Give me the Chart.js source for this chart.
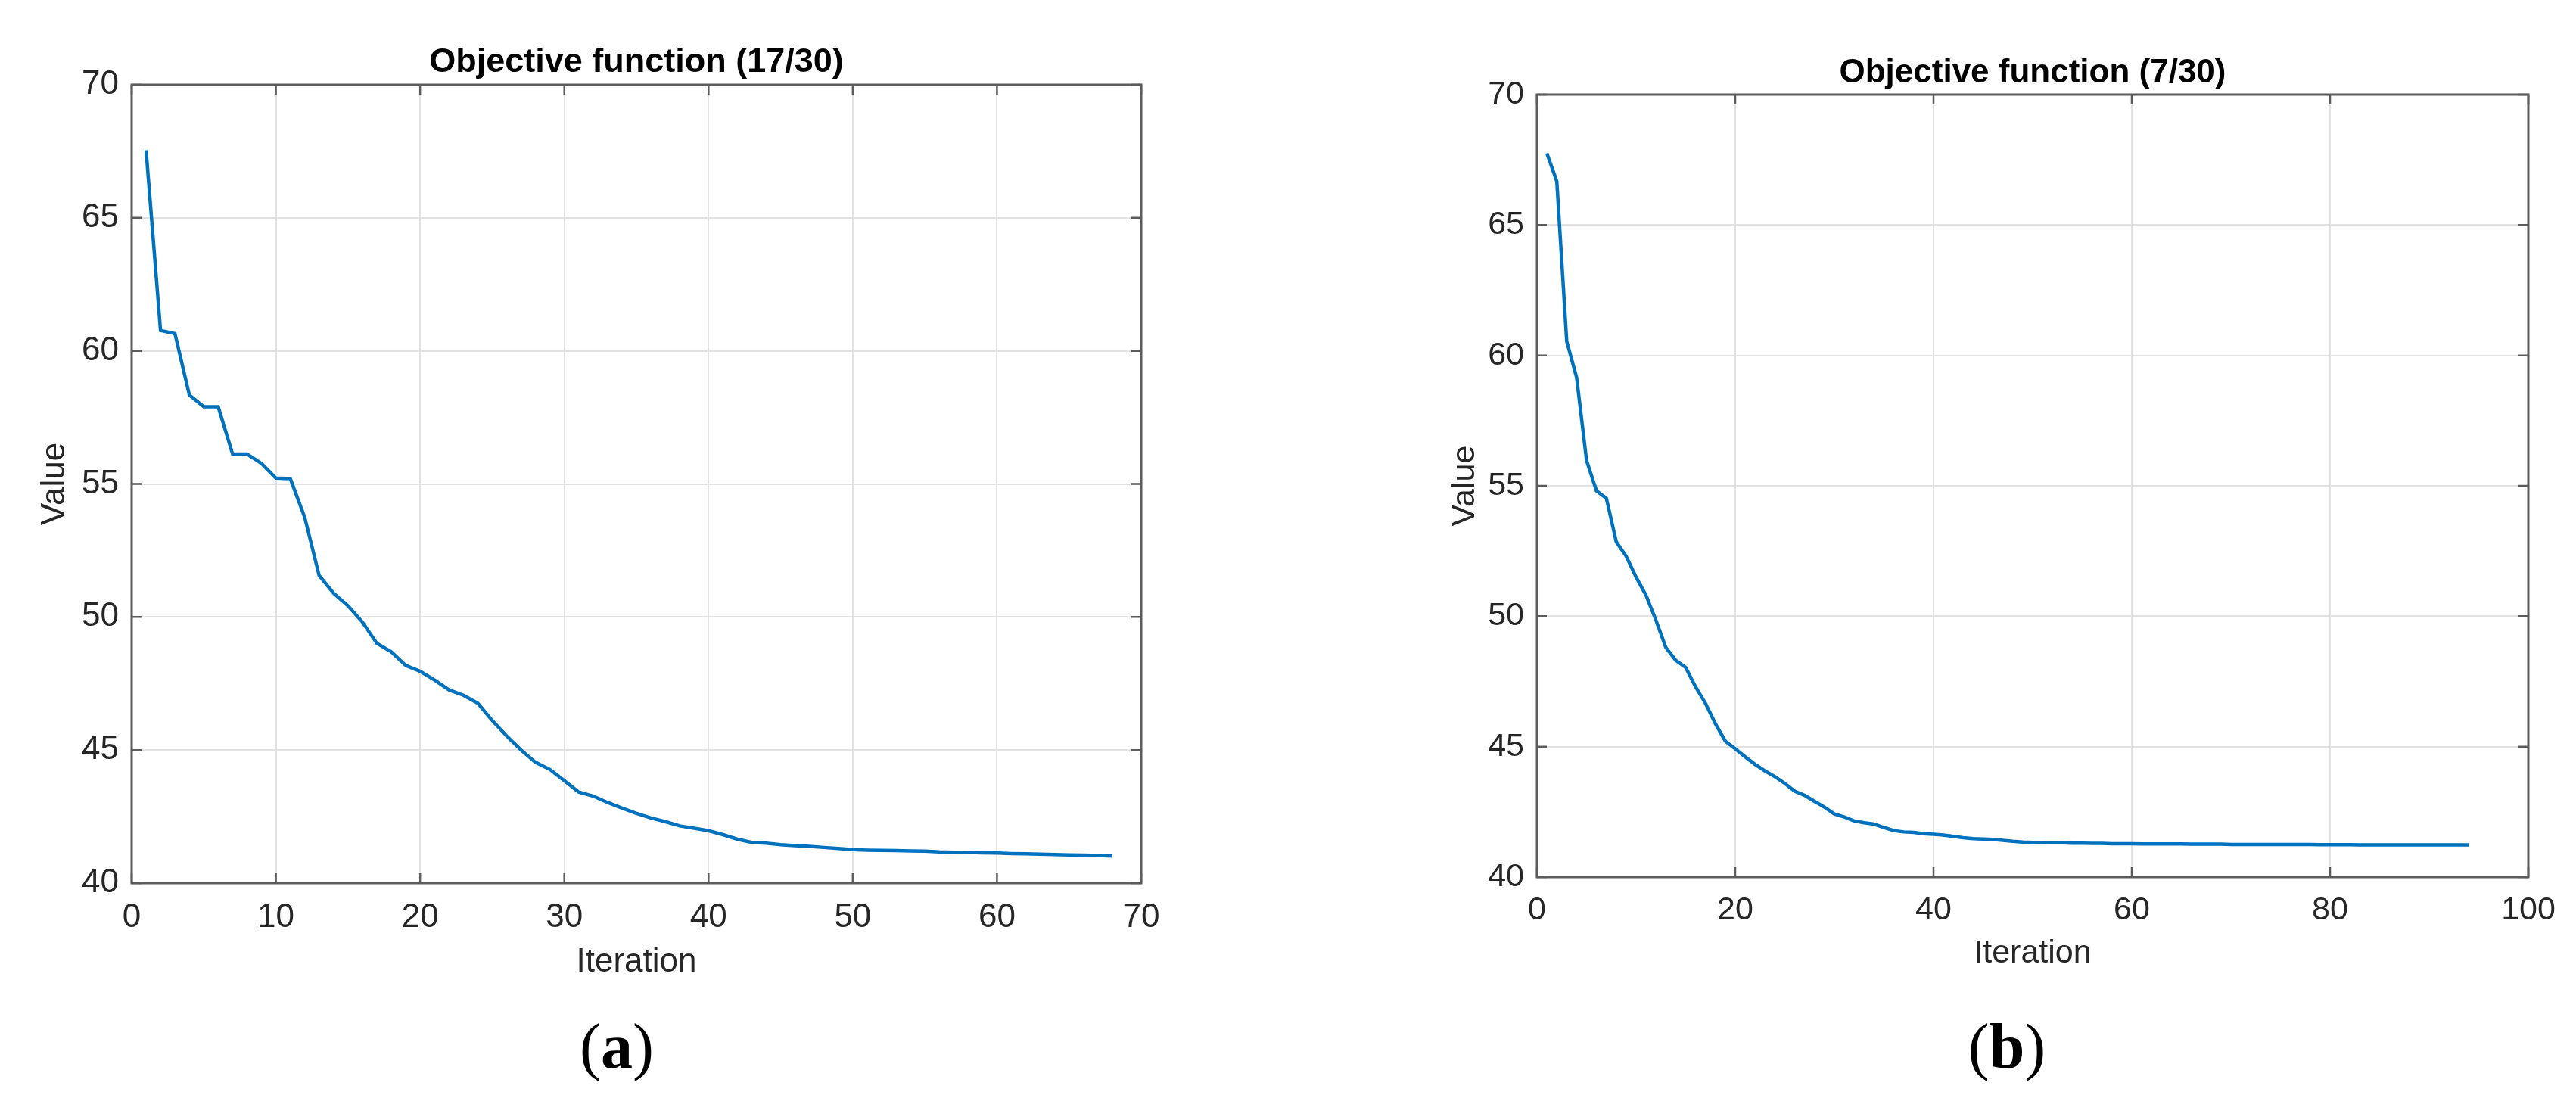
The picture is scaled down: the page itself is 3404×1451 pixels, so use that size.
<!DOCTYPE html>
<html>
<head>
<meta charset="utf-8">
<script src="https://cdn.jsdelivr.net/npm/chart.js@4/dist/chart.umd.min.js"></script>
<style>
  html, body { margin: 0; padding: 0; background: #fff; }
  #wrap { position: relative; width: 3404px; height: 1451px; background: #fff; overflow: hidden; }
  canvas { position: absolute; top: 0; }
  #cA { left: 0; }
  #cB { left: 1800px; }
  .cap { position: absolute; top: 1383px; transform: translate(-50%, -50%);
         font-family: "Liberation Serif", "DejaVu Serif", serif; font-size: 84px; line-height: 1; color: #000; white-space: nowrap; }
  .cap b { font-weight: bold; }
</style>
</head>
<body>
<div id="wrap">
  <canvas id="cA" width="1700" height="1320"></canvas>
  <canvas id="cB" width="1772" height="1320"></canvas>
  <div class="cap" style="left:815px">(<b>a</b>)</div>
  <div class="cap" style="left:2652px">(<b>b</b>)</div>
</div>
<script>
// ---------------- data ----------------
const titleA = 'Objective function (17/30)';
const titleB = 'Objective function (7/30)';
const xLabel = 'Iteration';
const yLabel = 'Value';

const valuesA = [
  67.54, 60.77, 60.65, 58.34, 57.90, 57.90, 56.12, 56.12, 55.77, 55.22,
  55.20, 53.74, 51.56, 50.89, 50.42, 49.81, 49.01, 48.69, 48.18, 47.96,
  47.63, 47.26, 47.06, 46.76, 46.11, 45.53, 45.00, 44.54, 44.27, 43.85,
  43.42, 43.27, 43.03, 42.82, 42.62, 42.45, 42.31, 42.15, 42.06, 41.97,
  41.82, 41.65, 41.53, 41.50, 41.44, 41.41, 41.38, 41.34, 41.30, 41.26,
  41.24, 41.23, 41.22, 41.21, 41.20, 41.17, 41.16, 41.15, 41.14, 41.13,
  41.11, 41.10, 41.09, 41.07, 41.06, 41.05, 41.04, 41.02
];

const valuesB = [
  67.75, 66.67, 60.54, 59.15, 55.97, 54.81, 54.52, 52.85, 52.30, 51.50,
  50.80, 49.85, 48.80, 48.31, 48.04, 47.29, 46.66, 45.88, 45.21, 44.92,
  44.61, 44.32, 44.07, 43.85, 43.59, 43.29, 43.13, 42.90, 42.68, 42.42,
  42.30, 42.15, 42.08, 42.03, 41.90, 41.78, 41.73, 41.71, 41.66, 41.64,
  41.61, 41.56, 41.51, 41.47, 41.46, 41.44, 41.41, 41.37, 41.34, 41.33,
  41.32, 41.31, 41.31, 41.30, 41.30, 41.29, 41.29, 41.28, 41.28, 41.28,
  41.27, 41.27, 41.27, 41.27, 41.27, 41.26, 41.26, 41.26, 41.26, 41.25,
  41.25, 41.25, 41.25, 41.25, 41.25, 41.25, 41.25, 41.25, 41.24, 41.24,
  41.24, 41.24, 41.23, 41.23, 41.23, 41.23, 41.23, 41.23, 41.23, 41.23,
  41.23, 41.23, 41.23, 41.23
];

const xTicksA = [0, 10, 20, 30, 40, 50, 60, 70];
const xTicksB = [0, 20, 40, 60, 80, 100];
const yTicks  = [40, 45, 50, 55, 60, 65, 70];

// ---------------- styling ----------------
const LINE_COLOR = '#0072BD';
const AXIS_COLOR = '#5c5c5c';
const GRID_COLOR = '#e2e2e2';
const TEXT_COLOR = '#262626';
const FONT = '"Liberation Sans", Arial, Helvetica, sans-serif';

const boxPlugin = {
  id: 'matlabBox',
  afterDraw(chart) {
    const { ctx, chartArea: { left, right, top, bottom }, scales: { x, y } } = chart;
    const tl = 13;
    ctx.save();
    ctx.strokeStyle = AXIS_COLOR;
    ctx.lineWidth = 3;
    ctx.strokeRect(left, top, right - left, bottom - top);
    ctx.lineWidth = 2.5;
    ctx.beginPath();
    x.ticks.forEach(t => {
      const px = x.getPixelForValue(t.value);
      ctx.moveTo(px, bottom); ctx.lineTo(px, bottom - tl);
      ctx.moveTo(px, top); ctx.lineTo(px, top + tl);
    });
    y.ticks.forEach(t => {
      const py = y.getPixelForValue(t.value);
      ctx.moveTo(left, py); ctx.lineTo(left + tl, py);
      ctx.moveTo(right, py); ctx.lineTo(right - tl, py);
    });
    ctx.stroke();
    ctx.restore();
  }
};

function makeChart(id, cfg) {
  const pts = cfg.values.map((v, i) => ({ x: i + 1, y: v }));
  return new Chart(document.getElementById(id), {
    type: 'line',
    data: { datasets: [{ data: pts, borderColor: LINE_COLOR, borderWidth: 4.5, pointRadius: 0, tension: 0, fill: false, yAxisID: 'y' }] },
    options: {
      responsive: false,
      animation: false,
      devicePixelRatio: 1,
      layout: { padding: { left: 0, top: 0, right: cfg.padRight, bottom: 0 } },
      plugins: {
        legend: { display: false },
        tooltip: { enabled: false },
        title: {
          display: true, text: cfg.title, color: '#000',
          font: { family: FONT, size: cfg.titleSize, weight: 'bold' },
          padding: { top: cfg.titleTop, bottom: cfg.titleBottom }
        }
      },
      scales: {
        x: {
          type: 'linear', min: cfg.xTicks[0], max: cfg.xTicks[cfg.xTicks.length - 1],
          afterBuildTicks: s => { s.ticks = cfg.xTicks.map(v => ({ value: v })); },
          ticks: { color: TEXT_COLOR, font: { family: FONT, size: cfg.tickSize }, padding: cfg.xTickPad, maxRotation: 0, autoSkip: false },
          grid: { color: GRID_COLOR, lineWidth: 2, drawTicks: false },
          border: { display: false },
          title: { display: true, text: xLabel, color: TEXT_COLOR, font: { family: FONT, size: cfg.labelSize }, padding: { top: 0, bottom: cfg.xTitlePad } },
          afterFit: s => { s.height = cfg.xHeight; }
        },
        y: {
          type: 'linear', position: 'left', min: yTicks[0], max: yTicks[yTicks.length - 1],
          afterBuildTicks: s => { s.ticks = yTicks.map(v => ({ value: v })); },
          ticks: { color: TEXT_COLOR, font: { family: FONT, size: cfg.tickSize }, padding: 17, autoSkip: false },
          grid: { color: GRID_COLOR, lineWidth: 2, drawTicks: false },
          border: { display: false },
          title: { display: true, text: yLabel, color: TEXT_COLOR, font: { family: FONT, size: cfg.labelSize }, padding: { top: cfg.yTitlePad, bottom: 0 } },
          afterFit: s => { s.width = cfg.yWidth; }
        },
        // empty spacer on the right so the chart title centres over the plot box
        spacer: {
          type: 'linear', position: 'right', min: 0, max: 1, display: true,
          ticks: { display: false }, grid: { display: false, drawTicks: false }, border: { display: false },
          afterFit: s => { s.width = cfg.yWidth; }
        }
      }
    },
    plugins: [boxPlugin]
  });
}

makeChart('cA', {
  values: valuesA, title: titleA, xTicks: xTicksA,
  padRight: 18, titleSize: 45, titleTop: 55.5, titleBottom: 2.5,
  tickSize: 44, labelSize: 44, xTickPad: 19.6, xTitlePad: 21.6, xHeight: 153,
  yTitlePad: 46.6, yWidth: 174
});

makeChart('cB', {
  values: valuesB, title: titleB, xTicks: xTicksB,
  padRight: 0, titleSize: 44, titleTop: 70.6, titleBottom: 1.6,
  tickSize: 43, labelSize: 43, xTickPad: 18.2, xTitlePad: 34.2, xHeight: 161,
  yTitlePad: 110, yWidth: 231
});
</script>
</body>
</html>
